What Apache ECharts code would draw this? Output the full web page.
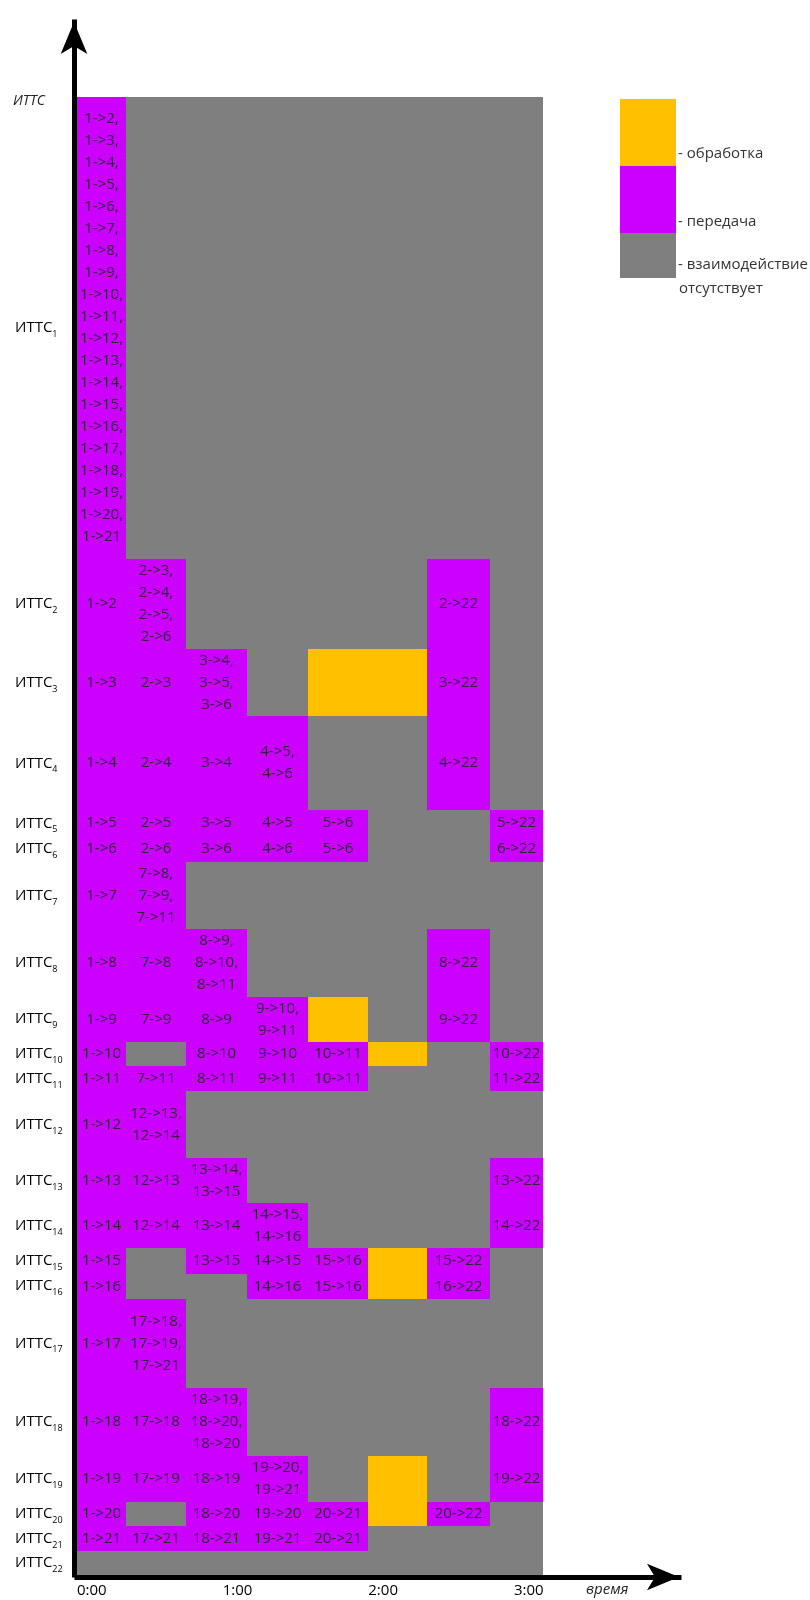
<!DOCTYPE html>
<html>
<head>
<meta charset="utf-8">
<script src="https://cdn.jsdelivr.net/npm/echarts@6/dist/echarts.min.js"></script>
<style>
  html, body { margin: 0; padding: 0; background: #fff; }
  #chart { width: 810px; height: 1600px; }
</style>
</head>
<body>
<div id="chart"></div>
<script>
// подписи строк (индекс ИТТС) и их высота в строках текста
const rowSubs = ['1', '2', '3', '4', '5', '6', '7', '8', '9', '10', '11',
  '12', '13', '14', '15', '16', '17', '18', '19', '20', '21', '22'];
const rowSpans = [20.6, 4, 3, 4.2, 1.15, 1.15, 3, 3, 2, 1.1, 1.1,
  3, 2, 2, 1.15, 1.1, 4, 3, 2.05, 1.1, 1.1, 1.07];

// границы интервалов по времени (мин) и подписи оси времени
const slotEdges = [0, 20, 45, 70, 95, 120, 144, 170, 192];
const timeTicks = [0, 60, 120, 180];
const timeLabels = ['0:00', '1:00', '2:00', '3:00'];

// p - передача, o - обработка, g - взаимодействие отсутствует
const cellState = [
  'pggggggg',
  'ppggggpg',
  'pppgoopg',
  'ppppggpg',
  'pppppggp',
  'pppppggp',
  'ppgggggg',
  'pppgggpg',
  'ppppogpg',
  'pgpppogp',
  'pppppggp',
  'ppgggggg',
  'pppggggp',
  'ppppgggp',
  'pgpppopg',
  'pggppopg',
  'ppgggggg',
  'pppggggp',
  'ppppgogp',
  'pgpppopg',
  'pppppggg',
  'gggggggg'
];

const cellText = [
  ['1->2,\n1->3,\n1->4,\n1->5,\n1->6,\n1->7,\n1->8,\n1->9,\n1->10,\n1->11,\n1->12,\n1->13,\n1->14,\n1->15,\n1->16,\n1->17,\n1->18,\n1->19,\n1->20,\n1->21', '', '', '', '', '', '', ''],
  ['1->2', '2->3,\n2->4,\n2->5,\n2->6', '', '', '', '', '2->22', ''],
  ['1->3', '2->3', '3->4,\n3->5,\n3->6', '', '', '', '3->22', ''],
  ['1->4', '2->4', '3->4', '4->5,\n4->6', '', '', '4->22', ''],
  ['1->5', '2->5', '3->5', '4->5', '5->6', '', '', '5->22'],
  ['1->6', '2->6', '3->6', '4->6', '5->6', '', '', '6->22'],
  ['1->7', '7->8,\n7->9,\n7->11', '', '', '', '', '', ''],
  ['1->8', '7->8', '8->9,\n8->10,\n8->11', '', '', '', '8->22', ''],
  ['1->9', '7->9', '8->9', '9->10,\n9->11', '', '', '9->22', ''],
  ['1->10', '', '8->10', '9->10', '10->11', '', '', '10->22'],
  ['1->11', '7->11', '8->11', '9->11', '10->11', '', '', '11->22'],
  ['1->12', '12->13,\n12->14', '', '', '', '', '', ''],
  ['1->13', '12->13', '13->14,\n13->15', '', '', '', '', '13->22'],
  ['1->14', '12->14', '13->14', '14->15,\n14->16', '', '', '', '14->22'],
  ['1->15', '', '13->15', '14->15', '15->16', '', '15->22', ''],
  ['1->16', '', '', '14->16', '15->16', '', '16->22', ''],
  ['1->17', '17->18,\n17->19,\n17->21', '', '', '', '', '', ''],
  ['1->18', '17->18', '18->19,\n18->20,\n18->20', '', '', '', '', '18->22'],
  ['1->19', '17->19', '18->19', '19->20,\n19->21', '', '', '', '19->22'],
  ['1->20', '', '18->20', '19->20', '20->21', '', '20->22', ''],
  ['1->21', '17->21', '18->21', '19->21', '20->21', '', '', ''],
  ['', '', '', '', '', '', '', '']
];

const stateColors = { p: '#CC00FF', o: '#FFC000', g: '#7F7F7F' };
const FONT = '"Open Sans", "Noto Sans", sans-serif';

// границы строк по оси Y (сверху вниз)
const total = rowSpans.reduce((a, b) => a + b, 0);
const rowTop = [];
const rowBottom = [];
let acc = total;
rowSpans.forEach((h) => {
  rowTop.push(acc);
  acc -= h;
  rowBottom.push(acc);
});
const rowCenters = rowTop.map((t, i) => (t + rowBottom[i]) / 2);

const cells = [];
cellState.forEach((row, r) => {
  row.split('').forEach((s, c) => cells.push([c, r, 'pog'.indexOf(s)]));
});

const myChart = echarts.init(document.getElementById('chart'));

myChart.setOption({
  animation: false,
  grid: { left: 77, top: 22, right: 131, bottom: 25 },
  xAxis: {
    type: 'value',
    min: 0,
    max: 248,
    offset: 2,
    axisLine: {
      onZero: false,
      symbol: ['none', 'arrow'],
      symbolSize: [20, 32],
      lineStyle: { color: '#000', width: 5, cap: 'square' }
    },
    axisTick: { show: false },
    splitLine: { show: false },
    axisLabel: {
      customValues: timeTicks,
      formatter: (v) => timeLabels[timeTicks.indexOf(v)] || '',
      align: 'left',
      margin: 6,
      color: '#000',
      fontSize: 15,
      fontFamily: FONT
    }
  },
  yAxis: {
    type: 'value',
    min: 0,
    max: 69.2,
    offset: 3,
    axisLine: {
      show: true,
      onZero: false,
      symbol: ['none', 'arrow'],
      symbolSize: [20, 32],
      lineStyle: { color: '#000', width: 5, cap: 'square' }
    },
    axisTick: { show: false },
    splitLine: { show: false },
    axisLabel: {
      customValues: rowCenters,
      formatter: (v) => {
        const i = rowCenters.findIndex((c) => Math.abs(c - v) < 1e-6);
        return i < 0 ? '' : '{m|ИТТС}{s|' + rowSubs[i] + '}';
      },
      align: 'left',
      margin: 59,
      rich: {
        m: { fontSize: 15, fontFamily: FONT, color: '#000', lineHeight: 22, verticalAlign: 'middle' },
        s: { fontSize: 9, fontFamily: FONT, color: '#000', lineHeight: 22, verticalAlign: 'bottom' }
      }
    }
  },
  series: [
    {
      type: 'custom',
      data: cells,
      renderItem: (params, api) => {
        const c = api.value(0);
        const r = api.value(1);
        const s = 'pog'[api.value(2)];
        const p0 = api.coord([slotEdges[c], rowTop[r]]);
        const p1 = api.coord([slotEdges[c + 1], rowBottom[r]]);
        const x = Math.round(p0[0]);
        const y = Math.round(p0[1]);
        return {
          type: 'rect',
          shape: { x: x, y: y, width: Math.round(p1[0]) - x, height: Math.round(p1[1]) - y },
          style: { fill: stateColors[s] },
          textContent: {
            style: {
              text: cellText[r][c],
              fill: '#2e2638',
              fontSize: 15,
              fontFamily: FONT,
              lineHeight: 22,
              align: 'center',
              verticalAlign: 'middle'
            }
          },
          textConfig: { position: 'inside' }
        };
      }
    }
  ],
  graphic: [
    { type: 'text', left: 13, top: 94, style: { text: 'ИТТС', font: 'italic 14px ' + FONT, fill: '#222' } },
    { type: 'text', left: 586, top: 1582, style: { text: 'время', font: 'italic 15px ' + FONT, fill: '#222' } },
    { type: 'rect', shape: { x: 620, y: 99, width: 56, height: 67 }, style: { fill: stateColors.o } },
    { type: 'rect', shape: { x: 620, y: 166, width: 56, height: 67 }, style: { fill: stateColors.p } },
    { type: 'rect', shape: { x: 620, y: 233, width: 56, height: 45 }, style: { fill: stateColors.g } },
    { type: 'text', left: 678, top: 146, style: { text: '- обработка', font: '15px ' + FONT, fill: '#333' } },
    { type: 'text', left: 678, top: 214, style: { text: '- передача', font: '15px ' + FONT, fill: '#333' } },
    { type: 'text', left: 678, top: 257, style: { text: '- взаимодействие', font: '15px ' + FONT, fill: '#333' } },
    { type: 'text', left: 679, top: 281, style: { text: 'отсутствует', font: '15px ' + FONT, fill: '#333' } }
  ]
});

window.addEventListener('resize', myChart.resize);
</script>
</body>
</html>
